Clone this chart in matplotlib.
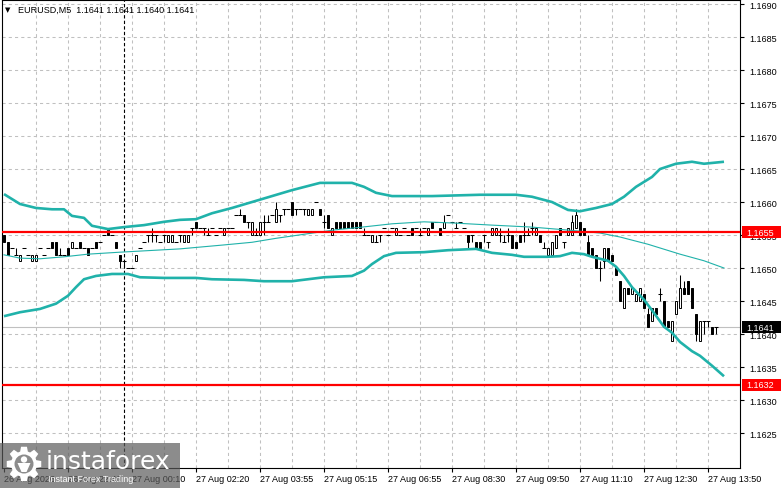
import numpy as np
import matplotlib
matplotlib.use("Agg")
import matplotlib.pyplot as plt
import matplotlib.transforms as mtransforms
from matplotlib.patches import Rectangle, Polygon, Circle

plt.rcParams['font.family'] = ['Liberation Sans', 'DejaVu Sans']

# EURUSD M5 bars (4-digit quotes)
opens = [1.1655, 1.1654, 1.1653, 1.1652, 1.1651, 1.1653, 1.1652, 1.1651, 1.1651, 1.1653,
         1.1652, 1.1653, 1.1654, 1.1654, 1.1652, 1.1652, 1.1653, 1.1653, 1.1653, 1.1654,
         1.1653, 1.1653, 1.1653, 1.1654, 1.1654, 1.1655, 1.1656, 1.1655, 1.1654, 1.1652,
         1.1651, 1.1650, 1.1650, 1.1651, 1.1653, 1.1654, 1.1655, 1.1655, 1.1655, 1.1654,
         1.1655, 1.1654, 1.1654, 1.1654, 1.1655, 1.1654, 1.1654, 1.1656, 1.1657, 1.1656,
         1.1656, 1.1655, 1.1656, 1.1655, 1.1656, 1.1655, 1.1656, 1.1656, 1.1658, 1.1658,
         1.1658, 1.1657, 1.1655, 1.1655, 1.1655, 1.1657, 1.1657, 1.1658, 1.1657, 1.1658,
         1.1659, 1.1659, 1.1660, 1.1659, 1.1659, 1.1659, 1.1658, 1.1658, 1.1660, 1.1659,
         1.1657, 1.1658, 1.1655, 1.1657, 1.1657, 1.1657, 1.1657, 1.1657, 1.1657, 1.1657,
         1.1655, 1.1655, 1.1654, 1.1654, 1.1655, 1.1656, 1.1655, 1.1656, 1.1655, 1.1655,
         1.1656, 1.1655, 1.1656, 1.1656, 1.1655, 1.1656, 1.1655, 1.1657, 1.1657, 1.1656,
         1.1656, 1.1658, 1.1657, 1.1656, 1.1657, 1.1656, 1.1655, 1.1655, 1.1654, 1.1654,
         1.1655, 1.1654, 1.1655, 1.1655, 1.1655, 1.1654, 1.1655, 1.1655, 1.1654, 1.1655,
         1.1655, 1.1655, 1.1656, 1.1655, 1.1655, 1.1653, 1.1652, 1.1652, 1.1653, 1.1656,
         1.1654, 1.1655, 1.1655, 1.1656, 1.1657, 1.1656, 1.1654, 1.1653, 1.1652, 1.1650,
         1.1651, 1.1653, 1.1652, 1.1650, 1.1648, 1.1644, 1.1647, 1.1646, 1.1645, 1.1645,
         1.1646, 1.1643, 1.1642, 1.1644, 1.1646, 1.1645, 1.1642, 1.1639, 1.1643, 1.1644,
         1.1647, 1.1648, 1.1647, 1.1643, 1.1639, 1.1642, 1.1642, 1.1641, 1.1641]
highs = [1.1655, 1.1654, 1.1653, 1.1653, 1.1652, 1.1653, 1.1652, 1.1652, 1.1652, 1.1653,
         1.1652, 1.1653, 1.1654, 1.1654, 1.1653, 1.1652, 1.1653, 1.1654, 1.1653, 1.1654,
         1.1653, 1.1653, 1.1653, 1.1654, 1.1654, 1.1655, 1.1656, 1.1655, 1.1654, 1.1652,
         1.1651, 1.1650, 1.1650, 1.1652, 1.1653, 1.1654, 1.1655, 1.1656, 1.1655, 1.1654,
         1.1655, 1.1655, 1.1655, 1.1654, 1.1655, 1.1655, 1.1655, 1.1656, 1.1657, 1.1656,
         1.1656, 1.1656, 1.1656, 1.1655, 1.1656, 1.1656, 1.1656, 1.1656, 1.1658, 1.1659,
         1.1658, 1.1657, 1.1657, 1.1656, 1.1657, 1.1658, 1.1658, 1.1658, 1.1660, 1.1658,
         1.1659, 1.1659, 1.1660, 1.1659, 1.1659, 1.1659, 1.1659, 1.1659, 1.1660, 1.1659,
         1.1658, 1.1658, 1.1656, 1.1657, 1.1657, 1.1657, 1.1657, 1.1657, 1.1657, 1.1657,
         1.1656, 1.1655, 1.1655, 1.1655, 1.1655, 1.1656, 1.1655, 1.1656, 1.1656, 1.1655,
         1.1656, 1.1655, 1.1656, 1.1656, 1.1656, 1.1656, 1.1656, 1.1657, 1.1657, 1.1656,
         1.1658, 1.1658, 1.1657, 1.1657, 1.1657, 1.1656, 1.1655, 1.1655, 1.1654, 1.1654,
         1.1655, 1.1654, 1.1656, 1.1656, 1.1656, 1.1655, 1.1656, 1.1655, 1.1654, 1.1655,
         1.1657, 1.1656, 1.1657, 1.1656, 1.1655, 1.1654, 1.1653, 1.1654, 1.1655, 1.1656,
         1.1654, 1.1656, 1.1658, 1.1659, 1.1657, 1.1656, 1.1655, 1.1653, 1.1652, 1.1651,
         1.1653, 1.1653, 1.1652, 1.1650, 1.1648, 1.1647, 1.1647, 1.1647, 1.1646, 1.1647,
         1.1646, 1.1644, 1.1644, 1.1644, 1.1647, 1.1645, 1.1642, 1.1642, 1.1645, 1.1649,
         1.1648, 1.1648, 1.1647, 1.1643, 1.1642, 1.1642, 1.1642, 1.1641, 1.1641]
lows = [1.1654, 1.1652, 1.1653, 1.1652, 1.1651, 1.1653, 1.1652, 1.1651, 1.1651, 1.1653,
        1.1652, 1.1653, 1.1653, 1.1652, 1.1652, 1.1652, 1.1652, 1.1653, 1.1653, 1.1653,
        1.1653, 1.1652, 1.1653, 1.1653, 1.1654, 1.1655, 1.1655, 1.1655, 1.1653, 1.1650,
        1.1650, 1.1650, 1.1650, 1.1651, 1.1653, 1.1654, 1.1654, 1.1654, 1.1654, 1.1654,
        1.1654, 1.1654, 1.1654, 1.1654, 1.1654, 1.1654, 1.1654, 1.1655, 1.1656, 1.1656,
        1.1655, 1.1655, 1.1656, 1.1655, 1.1656, 1.1655, 1.1656, 1.1656, 1.1658, 1.1658,
        1.1657, 1.1656, 1.1655, 1.1655, 1.1655, 1.1655, 1.1657, 1.1658, 1.1657, 1.1657,
        1.1658, 1.1659, 1.1658, 1.1658, 1.1659, 1.1658, 1.1658, 1.1658, 1.1660, 1.1658,
        1.1656, 1.1656, 1.1655, 1.1656, 1.1656, 1.1656, 1.1656, 1.1656, 1.1656, 1.1656,
        1.1655, 1.1655, 1.1654, 1.1654, 1.1654, 1.1656, 1.1655, 1.1656, 1.1655, 1.1655,
        1.1656, 1.1655, 1.1655, 1.1656, 1.1655, 1.1656, 1.1655, 1.1656, 1.1657, 1.1655,
        1.1656, 1.1658, 1.1657, 1.1656, 1.1657, 1.1656, 1.1653, 1.1654, 1.1653, 1.1653,
        1.1654, 1.1653, 1.1655, 1.1655, 1.1654, 1.1654, 1.1654, 1.1653, 1.1653, 1.1654,
        1.1654, 1.1655, 1.1655, 1.1655, 1.1654, 1.1653, 1.1652, 1.1652, 1.1653, 1.1655,
        1.1653, 1.1655, 1.1655, 1.1656, 1.1655, 1.1655, 1.1652, 1.1652, 1.1650, 1.1648,
        1.1650, 1.1651, 1.1651, 1.1649, 1.1645, 1.1644, 1.1646, 1.1646, 1.1645, 1.1645,
        1.1644, 1.1641, 1.1642, 1.1643, 1.1645, 1.1641, 1.1641, 1.1639, 1.1643, 1.1644,
        1.1646, 1.1646, 1.1644, 1.1639, 1.1639, 1.1640, 1.1641, 1.1640, 1.1640]
closes = [1.1654, 1.1652, 1.1653, 1.1652, 1.1652, 1.1653, 1.1652, 1.1652, 1.1652, 1.1653,
          1.1652, 1.1653, 1.1653, 1.1652, 1.1652, 1.1652, 1.1652, 1.1654, 1.1653, 1.1653,
          1.1653, 1.1652, 1.1653, 1.1653, 1.1654, 1.1655, 1.1655, 1.1655, 1.1653, 1.1651,
          1.1651, 1.1650, 1.1650, 1.1652, 1.1653, 1.1654, 1.1655, 1.1655, 1.1655, 1.1654,
          1.1655, 1.1655, 1.1655, 1.1654, 1.1655, 1.1655, 1.1655, 1.1656, 1.1656, 1.1656,
          1.1656, 1.1655, 1.1656, 1.1655, 1.1656, 1.1656, 1.1656, 1.1656, 1.1658, 1.1658,
          1.1657, 1.1657, 1.1657, 1.1655, 1.1657, 1.1657, 1.1657, 1.1658, 1.1659, 1.1658,
          1.1659, 1.1659, 1.1658, 1.1659, 1.1659, 1.1659, 1.1659, 1.1659, 1.1660, 1.1658,
          1.1657, 1.1656, 1.1656, 1.1656, 1.1656, 1.1656, 1.1656, 1.1656, 1.1656, 1.1656,
          1.1655, 1.1655, 1.1655, 1.1654, 1.1655, 1.1656, 1.1655, 1.1656, 1.1656, 1.1655,
          1.1656, 1.1655, 1.1655, 1.1656, 1.1655, 1.1656, 1.1656, 1.1656, 1.1657, 1.1655,
          1.1657, 1.1658, 1.1657, 1.1656, 1.1657, 1.1656, 1.1654, 1.1655, 1.1653, 1.1653,
          1.1655, 1.1654, 1.1656, 1.1656, 1.1655, 1.1654, 1.1655, 1.1653, 1.1653, 1.1654,
          1.1655, 1.1655, 1.1656, 1.1656, 1.1654, 1.1653, 1.1653, 1.1654, 1.1655, 1.1655,
          1.1654, 1.1656, 1.1657, 1.1658, 1.1655, 1.1655, 1.1652, 1.1652, 1.1650, 1.1650,
          1.1653, 1.1651, 1.1651, 1.1649, 1.1645, 1.1647, 1.1646, 1.1647, 1.1646, 1.1647,
          1.1644, 1.1641, 1.1644, 1.1643, 1.1646, 1.1641, 1.1641, 1.1642, 1.1645, 1.1647,
          1.1646, 1.1646, 1.1644, 1.1640, 1.1642, 1.1642, 1.1642, 1.1640, 1.1641]

# Bollinger bands (upper / lower) and the thin moving average, sampled by bar index
upper_idx = [0, 4, 8, 12, 15, 17, 20, 22, 26, 30, 35, 40, 44, 48, 52, 57, 62, 67, 72, 79,
             87, 90, 93, 97, 107, 119, 128, 132, 137, 141, 144, 148, 152, 155, 158, 162,
             164, 168, 172, 175, 180]
upper_val = [1.16612, 1.16597, 1.16591, 1.16589, 1.16589, 1.16579, 1.16576, 1.16564, 1.16559,
             1.16562, 1.16565, 1.16570, 1.16573, 1.16574, 1.16583, 1.16591, 1.16600, 1.16609,
             1.16618, 1.16629, 1.16629, 1.16623, 1.16614, 1.16609, 1.16609, 1.16611, 1.16611,
             1.16608, 1.16600, 1.16588, 1.16586, 1.16591, 1.16597, 1.16608, 1.16623, 1.16638,
             1.16650, 1.16658, 1.16661, 1.16658, 1.16661]
lower_idx = [0, 4, 9, 13, 16, 18, 20, 23, 27, 31, 34, 40, 48, 52, 60, 65, 72, 80, 87, 90,
             92, 95, 98, 105, 111, 118, 122, 127, 130, 136, 139, 142, 145, 147, 151, 153,
             155, 157, 160, 162, 165, 167, 169, 172, 174, 177, 180]
lower_val = [1.16427, 1.16433, 1.16438, 1.16446, 1.16458, 1.16471, 1.16483, 1.16488, 1.16491,
             1.16491, 1.16486, 1.16485, 1.16485, 1.16483, 1.16482, 1.16480, 1.16480, 1.16486,
             1.16488, 1.16496, 1.16506, 1.16518, 1.16523, 1.16524, 1.16527, 1.16529, 1.16523,
             1.16520, 1.16517, 1.16517, 1.16518, 1.16523, 1.16521, 1.16517, 1.16511, 1.16502,
             1.16488, 1.16471, 1.16452, 1.16436, 1.16411, 1.16402, 1.16388, 1.16374, 1.16367,
             1.16352, 1.16336]
mid_idx = [0, 4, 9, 15, 21, 29, 35, 44, 55, 62, 68, 76, 83, 88, 97, 105, 113, 122, 132,
           140, 149, 154, 161, 169, 175, 180]
mid_val = [1.16520, 1.16515, 1.16514, 1.16517, 1.16521, 1.16524, 1.16526, 1.16529, 1.16535,
           1.16539, 1.16545, 1.16552, 1.16558, 1.16561, 1.16567, 1.16570, 1.16568, 1.16565,
           1.16562, 1.16558, 1.16553, 1.16547, 1.16536, 1.16521, 1.16511, 1.16500]

level_hi = 1.16554
level_lo = 1.16323
bid = 1.1641
separator_bar = 30

time_ticks = [0, 16, 32, 48, 64, 80, 96, 112, 128, 144, 160, 176]
time_labels = ["26 Aug 2026", "26 Aug 22:40", "27 Aug 00:10", "27 Aug 02:20", "27 Aug 03:55",
               "27 Aug 05:15", "27 Aug 06:55", "27 Aug 08:30", "27 Aug 09:50", "27 Aug 11:10",
               "27 Aug 12:30", "27 Aug 13:50"]
price_ticks = [1.1625, 1.1630, 1.1635, 1.1640, 1.1645, 1.1650, 1.1655, 1.1660, 1.1665,
               1.1670, 1.1675, 1.1680, 1.1685, 1.1690]

W, H = 781, 489
fig = plt.figure(figsize=(W / 100, H / 100), dpi=100)
fig.patch.set_facecolor("white")
ax = fig.add_axes([2 / W, (H - 469) / H, 738 / W, 468 / H])
ax.set_xlim(-0.5, 184)
ax.set_ylim(1.16197, 1.169061)

grid_kw = dict(color="#c0c0c0", lw=0.75, ls=(0, (3, 3)), zorder=0.5)
for p in price_ticks:
    ax.axhline(p, **grid_kw)
for gx in range(8, 184, 8):
    ax.axvline(gx, **grid_kw)

ax.axhline(bid, color="#c0c0c0", lw=0.8, zorder=1)
ax.axvline(separator_bar, color="black", lw=0.8, ls=(0, (3, 2)), zorder=1.5)

x = np.arange(len(opens))
o = np.array(opens)
h = np.array(highs)
l = np.array(lows)
c = np.array(closes)
flat = np.isclose(o, c)
bull = (c > o) & ~flat
bear = (c < o) & ~flat

ax.vlines(x, l, h, color="black", lw=0.75, zorder=3)
ax.bar(x[bull], (c - o)[bull], bottom=o[bull], width=0.55, facecolor="white",
       edgecolor="black", lw=0.7, zorder=4)
ax.bar(x[bear], (o - c)[bear], bottom=c[bear], width=0.55, facecolor="black",
       edgecolor="black", lw=0.7, zorder=4)
ax.hlines(o[flat], x[flat] - 0.38, x[flat] + 0.38, color="black", lw=0.75, zorder=4)

teal = "#20b2aa"
ax.plot(upper_idx, upper_val, color=teal, lw=1.9, zorder=5, solid_capstyle="butt")
ax.plot(lower_idx, lower_val, color=teal, lw=1.9, zorder=5, solid_capstyle="butt")
ax.plot(mid_idx, mid_val, color=teal, lw=0.8, zorder=5)

ax.axhline(level_hi, color="red", lw=1.6, zorder=6)
ax.axhline(level_lo, color="red", lw=1.6, zorder=6)

for s in ax.spines.values():
    s.set_color("black")
    s.set_linewidth(0.8)

ax.yaxis.tick_right()
ax.set_yticks(price_ticks)
ax.set_yticklabels([f"{p:.4f}" for p in price_ticks])
ax.set_xticks(time_ticks)
ax.set_xticklabels(time_labels, ha="left")
ax.tick_params(axis="y", direction="out", length=3, width=0.8, pad=3.5, labelsize=6.5)
ax.tick_params(axis="x", direction="out", length=3, width=0.8, pad=1.5, labelsize=6.5)

# price boxes on the right scale
blend = mtransforms.blended_transform_factory(fig.transFigure, ax.transData)
box_h = 12 / 66000
for p, txt, col in [(level_hi, "1.1655", "red"), (level_lo, "1.1632", "red"), (bid, "1.1641", "black")]:
    ax.add_patch(Rectangle((742 / W, p - box_h / 2), (W - 742) / W, box_h, transform=blend,
                           facecolor=col, edgecolor="none", clip_on=False, zorder=10))
    ax.text(746.5 / W, p, txt, transform=blend, color="white", fontsize=6.5, va="center",
            ha="left", clip_on=False, zorder=11)

fig.text(5 / W, 1 - 10 / H, "\u25bc", family="DejaVu Sans", fontsize=5, va="center")
fig.text(18 / W, 1 - 10 / H, "EURUSD,M5  1.1641 1.1641 1.1640 1.1641", fontsize=6.5, va="center")

# watermark
wm = fig.add_axes([0, 0, 180 / W, 45 / H])
wm.set_xlim(0, 180)
wm.set_ylim(0, 45)
wm.axis("off")
wm.add_patch(Rectangle((0, 0), 180, 45, facecolor="#5b5b5b", alpha=0.7, edgecolor="none"))
cx, cy = 24, 24
ang = np.linspace(0, 2 * np.pi, 8, endpoint=False)
pts = []
for a in ang:
    for da, r in [(-0.30, 13), (-0.17, 17.5), (0.17, 17.5), (0.30, 13)]:
        pts.append((cx + r * np.cos(a + da), cy + r * np.sin(a + da)))
wm.add_patch(Polygon(pts, closed=True, facecolor="white", edgecolor="none"))
wm.add_patch(Circle((cx, cy), 9.5, facecolor="#8c8c8c", edgecolor="none"))
wm.add_patch(Circle((cx, cy + 4.5), 3.2, facecolor="white", edgecolor="none"))
wm.add_patch(Polygon([(17.5, 25), (30.5, 25), (26.5, 16), (21.5, 16)], closed=True,
                     facecolor="white", edgecolor="none"))
wm.text(46, 20, "instaforex", color="white", fontsize=18, family="DejaVu Sans", va="baseline")
wm.text(48, 9, "Instant Forex Trading", color="white", fontsize=6.5, va="center")

fig.savefig("out.png", dpi=100)
